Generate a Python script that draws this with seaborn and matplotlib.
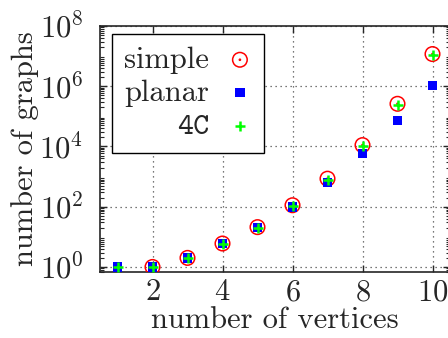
import numpy as np
import pandas as pd
import seaborn as sns
import matplotlib
matplotlib.use("Agg")
import matplotlib.pyplot as plt
from matplotlib.path import Path
from matplotlib.ticker import LogLocator, NullFormatter

# number of connected graphs per vertex count
n_simple = [2, 3, 4, 5, 6, 7, 8, 9, 10]
simple = [1, 2, 6, 21, 112, 853, 11117, 261080, 11716571]
n_planar = [1, 2, 3, 4, 5, 6, 7, 8, 9, 10]
planar = [1, 1, 2, 6, 20, 99, 646, 5974, 71885, 1052805]
n_4c = [1, 2, 3, 4, 5, 6, 7, 8, 9, 10]
four_c = [1, 1, 2, 6, 20, 107, 800, 10500, 238000, 10900000]

sns.set_style("ticks")
plt.rcParams['font.family'] = ['cmr10', 'DejaVu Serif']
plt.rcParams['mathtext.fontset'] = 'cm'
plt.rcParams['axes.formatter.use_mathtext'] = True
plt.rcParams['axes.unicode_minus'] = False

FS = 22

# gnuplot style "circle with a dot" marker
circ = Path.unit_circle()
dot = Path(circ.vertices * 0.08, circ.codes)
odot = Path.make_compound_path(circ, dot)

fig = plt.figure(figsize=(4.48, 3.38), dpi=100)
ax = fig.add_axes([100/448, 66/338, 350/448, 246/338])

df_s = pd.DataFrame({"n": n_simple, "count": simple})
df_p = pd.DataFrame({"n": n_planar, "count": planar})
df_c = pd.DataFrame({"n": n_4c, "count": four_c})

sns.scatterplot(data=df_s, x="n", y="count", ax=ax, marker=odot, s=110,
                facecolor="none", edgecolor="red", linewidth=1.1, label="simple", zorder=3)
sns.scatterplot(data=df_p, x="n", y="count", ax=ax, marker="s", s=45,
                color="blue", edgecolor="none", linewidth=0, label="planar", zorder=4)
sns.scatterplot(data=df_c, x="n", y="count", ax=ax, marker="+", s=60,
                color="#00ff00", linewidth=1.8, label="4C", zorder=5)

ax.set_yscale("log")
ax.set_xlim(0.5, 10.5)
ax.set_ylim(0.68, 1e8)
ax.set_xticks([2, 4, 6, 8, 10])
ax.set_yticks([1, 1e2, 1e4, 1e6, 1e8])
ax.yaxis.set_minor_locator(LogLocator(base=10, subs=np.arange(2, 10), numticks=20))
ax.yaxis.set_minor_formatter(NullFormatter())

ax.grid(True, which="major", color="black", linestyle=(0, (1, 3)), linewidth=0.9, alpha=0.7)
ax.tick_params(which="both", direction="in", top=True, right=True, labelsize=FS)
ax.tick_params(axis="x", pad=5)
ax.tick_params(axis="y", pad=12)
ax.tick_params(which="major", length=5, width=1)
ax.tick_params(which="minor", length=3, width=0.8)
for sp in ax.spines.values():
    sp.set_linewidth(1.2)

ax.set_xlabel("number of vertices", fontsize=FS, labelpad=0)
ax.set_ylabel("number of graphs", fontsize=FS)
ax.yaxis.set_label_coords(-0.175, 0.5)

leg = ax.legend(loc="upper left", bbox_to_anchor=(0.035, 0.967), markerfirst=False,
                fancybox=False, edgecolor="black", framealpha=1, fontsize=FS,
                handletextpad=0.6, labelspacing=0.18, borderpad=0.4, handlelength=0.8,
                borderaxespad=0)
leg.get_frame().set_linewidth(1.0)
leg.get_texts()[2].set_family("cmtt10")

fig.savefig("out.png", dpi=100)
